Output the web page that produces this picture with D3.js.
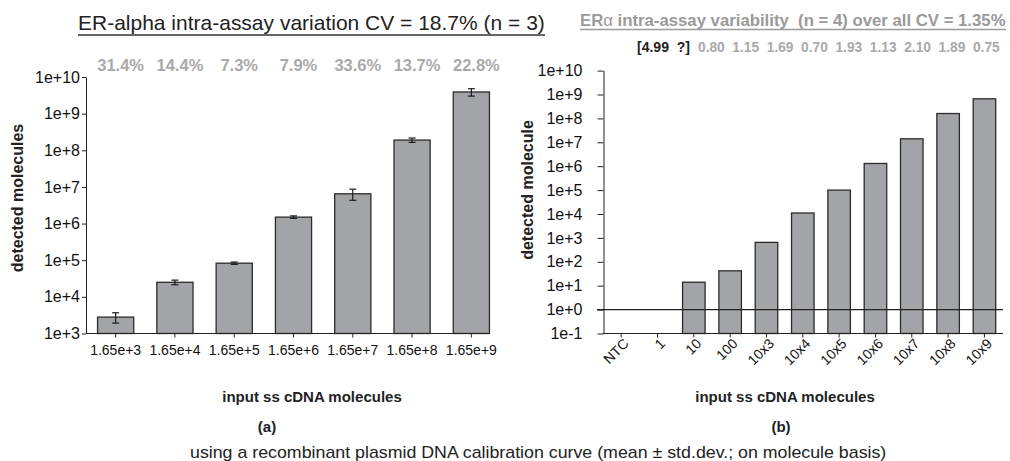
<!DOCTYPE html>
<html>
<head>
<meta charset="UTF-8">
<title>ER-alpha intra-assay variation</title>
<script src="https://d3js.org/d3.v7.min.js"></script>
<style>
  body { margin: 0; background: #fff; }
  svg text { font-family: "Liberation Sans", Arial, sans-serif; }
  .narrow { font-family: "Liberation Sans Narrow", "Arial Narrow", "Liberation Sans", Arial, sans-serif !important; }
  .axis text { fill: #111; }
  .axis path, .axis line { stroke: #222; }
</style>
</head>
<body>
<script>
// data (a): recombinant plasmid calibration, n = 3
var leftCats = ["1.65e+3", "1.65e+4", "1.65e+5", "1.65e+6", "1.65e+7", "1.65e+8", "1.65e+9"];
var leftMeans = [2.8e3, 2.5e4, 8.3e4, 1.5e6, 6.5e6, 1.9e8, 3.9e9];
var leftCV = [31.4, 14.4, 7.3, 7.9, 33.6, 13.7, 22.8];

// data (b): intra-assay variability, n = 4
var rightCats = ["NTC", "1", "10", "100", "10x3", "10x4", "10x5", "10x6", "10x7", "10x8", "10x9"];
var rightValues = [null, null, 14, 42, 650, 1.1e4, 1.0e5, 1.3e6, 1.4e7, 1.6e8, 6.6e8];
var rightBracket = ["4.99", "?"];
var rightCV = ["0.80", "1.15", "1.69", "0.70", "1.93", "1.13", "2.10", "1.89", "0.75"];

var leftTicks = [1e3, 1e4, 1e5, 1e6, 1e7, 1e8, 1e9, 1e10];
var rightTicks = [1e-1, 1e0, 1e1, 1e2, 1e3, 1e4, 1e5, 1e6, 1e7, 1e8, 1e9, 1e10];

var barFill = "#a3a4a7",
    barStroke = "#2b2b2b",
    cvGrey = "#a9a9a9";

function expFormat(d) {
    var e = Math.round(Math.log10(d));
    return "1e" + (e >= 0 ? "+" : "") + e;
}

// squeeze a text horizontally so it spans `w` pixels from x
function fitWidth(sel, x, y, w) {
    var natural = sel.node().getComputedTextLength();
    sel.attr("transform", "translate(" + x + "," + y + ") scale(" + (w / natural) + ",1)");
}

var svg = d3.select("body").append("svg")
    .attr("width", 1010)
    .attr("height", 461);

// ---------- panel (a)
var xL = d3.scaleBand().domain(leftCats).range([86, 501]).paddingInner(0.39).paddingOuter(0.195);
var yL = d3.scaleLog().domain([1e3, 1e10]).range([333.5, 77]);

var gL = svg.append("g");

gL.selectAll("rect.bar")
    .data(leftMeans)
    .enter().append("rect")
    .attr("class", "bar")
    .attr("x", function(d, i) { return xL(leftCats[i]); })
    .attr("width", xL.bandwidth())
    .attr("y", function(d) { return yL(d); })
    .attr("height", function(d) { return yL(1e3) - yL(d); })
    .attr("fill", barFill)
    .attr("stroke", barStroke)
    .attr("stroke-width", 1.3);

// error bars (mean +- sd from CV)
var err = gL.selectAll("g.err")
    .data(leftMeans)
    .enter().append("g")
    .attr("class", "err")
    .attr("transform", function(d, i) { return "translate(" + (xL(leftCats[i]) + xL.bandwidth() / 2) + ",0)"; })
    .attr("stroke", "#1a1a1a")
    .attr("stroke-width", 1.2);
err.append("line")
    .attr("y1", function(d, i) { return yL(d * (1 + leftCV[i] / 100)); })
    .attr("y2", function(d, i) { return yL(d * (1 - leftCV[i] / 100)); });
err.append("line").attr("x1", -3.5).attr("x2", 3.5)
    .attr("y1", function(d, i) { return yL(d * (1 + leftCV[i] / 100)); })
    .attr("y2", function(d, i) { return yL(d * (1 + leftCV[i] / 100)); });
err.append("line").attr("x1", -3.5).attr("x2", 3.5)
    .attr("y1", function(d, i) { return yL(d * (1 - leftCV[i] / 100)); })
    .attr("y2", function(d, i) { return yL(d * (1 - leftCV[i] / 100)); });

gL.append("g")
    .attr("class", "axis")
    .attr("transform", "translate(86,0)")
    .call(d3.axisLeft(yL).tickValues(leftTicks).tickFormat(expFormat).tickSize(4).tickSizeOuter(0).tickPadding(2))
    .call(function(g) { g.selectAll("text").attr("font-size", 16); });

var xAxisL = gL.append("g")
    .attr("class", "axis")
    .attr("transform", "translate(0,333.5)")
    .call(d3.axisBottom(xL).tickSize(4).tickPadding(8));
xAxisL.select(".domain").remove();
xAxisL.selectAll("text").attr("font-size", 14);
gL.append("line")
    .attr("x1", 86).attr("x2", xL(leftCats[leftCats.length - 1]) + xL.bandwidth())
    .attr("y1", 333.5).attr("y2", 333.5)
    .attr("stroke", "#222");

gL.selectAll("text.cv")
    .data(leftCV)
    .enter().append("text")
    .attr("class", "cv")
    .attr("x", function(d, i) { return xL(leftCats[i]) + xL.bandwidth() / 2 + 5; })
    .attr("y", 71)
    .attr("text-anchor", "middle")
    .attr("font-size", 16.5)
    .attr("font-weight", "bold")
    .attr("fill", cvGrey)
    .text(function(d) { return d.toFixed(1) + "%"; });

var titleL = gL.append("text")
    .attr("font-size", 20)
    .attr("fill", "#222")
    .text("ER-alpha intra-assay variation CV = 18.7% (n = 3)");
fitWidth(titleL, 78, 30, 467);
gL.append("line")
    .attr("x1", 78).attr("x2", 545).attr("y1", 35).attr("y2", 35)
    .attr("stroke", "#333").attr("stroke-width", 1.4);

gL.append("text")
    .attr("transform", "translate(23,198) rotate(-90)")
    .attr("text-anchor", "middle")
    .attr("font-size", 16)
    .attr("font-weight", "bold")
    .attr("fill", "#222")
    .text("detected molecules");

gL.append("text")
    .attr("x", 312).attr("y", 402)
    .attr("text-anchor", "middle")
    .attr("font-size", 15)
    .attr("font-weight", "bold")
    .attr("fill", "#222")
    .text("input ss cDNA molecules");

gL.append("text")
    .attr("x", 267).attr("y", 432)
    .attr("text-anchor", "middle")
    .attr("font-size", 15)
    .attr("font-weight", "bold")
    .attr("fill", "#222")
    .text("(a)");

// ---------- panel (b)
var xR = d3.scaleBand().domain(rightCats).range([603, 1002.6]).paddingInner(0.38).paddingOuter(0.19);
var yR = d3.scaleLog().domain([1e-1, 1e10]).range([333.5, 70.6]);

var gR = svg.append("g");

gR.selectAll("rect.bar")
    .data(rightValues.map(function(v, i) { return {cat: rightCats[i], value: v}; })
        .filter(function(d) { return d.value != null; }))
    .enter().append("rect")
    .attr("class", "bar")
    .attr("x", function(d) { return xR(d.cat); })
    .attr("width", xR.bandwidth())
    .attr("y", function(d) { return yR(d.value); })
    .attr("height", function(d) { return yR(1e-1) - yR(d.value); })
    .attr("fill", barFill)
    .attr("stroke", barStroke)
    .attr("stroke-width", 1.3);

gR.append("g")
    .attr("class", "axis")
    .attr("transform", "translate(603.5,0)")
    .call(d3.axisLeft(yR).tickValues(rightTicks).tickFormat(expFormat).tickSize(6).tickSizeOuter(0).tickPadding(15))
    .call(function(g) { g.selectAll("text").attr("font-size", 16); });

var xAxisR = gR.append("g")
    .attr("class", "axis")
    .attr("transform", "translate(0,333.5)")
    .call(d3.axisBottom(xR).tickSize(4).tickFormat(""));
xAxisR.select(".domain").remove();
gR.append("line")
    .attr("x1", 603).attr("x2", 1003)
    .attr("y1", 333.5).attr("y2", 333.5)
    .attr("stroke", "#222");

gR.selectAll("text.xlab")
    .data(rightCats)
    .enter().append("text")
    .attr("class", "xlab")
    .attr("transform", function(d) { return "translate(" + (xR(d) + xR.bandwidth() / 2 + 5) + ",341) rotate(-45)"; })
    .attr("text-anchor", "end")
    .attr("dy", "0.35em")
    .attr("font-size", 14)
    .attr("fill", "#111")
    .text(function(d) { return d; });

// baseline at 1e+0
gR.append("line")
    .attr("x1", 597).attr("x2", 1003)
    .attr("y1", yR(1)).attr("y2", yR(1))
    .attr("stroke", "#222").attr("stroke-width", 1.2);

// CV row: bracketed values for NTC / 1, then one value per bar
var bracket = gR.append("text")
    .attr("class", "narrow")
    .attr("font-size", 15)
    .attr("font-weight", "bold")
    .attr("fill", "#222")
    .style("white-space", "pre")
    .text("[" + rightBracket.join("  ") + "]");
fitWidth(bracket, 637, 52, 53);

var cvRow = gR.append("text")
    .attr("class", "narrow")
    .attr("font-size", 15)
    .attr("font-weight", "bold")
    .attr("fill", cvGrey)
    .style("white-space", "pre")
    .text(rightCV.join("  "));
fitWidth(cvRow, 698, 52, 302);

var titleR = gR.append("text")
    .attr("class", "narrow")
    .attr("font-size", 17)
    .attr("font-weight", "bold")
    .attr("fill", "#9a9a9a")
    .style("white-space", "pre");
titleR.append("tspan").text("ER");
titleR.append("tspan").attr("font-weight", "normal").text("\u03b1");
titleR.append("tspan").text(" intra-assay variability  (n = 4) over all CV = 1.35%");
fitWidth(titleR, 580, 26, 426);
gR.append("line")
    .attr("x1", 580).attr("x2", 1006).attr("y1", 29.5).attr("y2", 29.5)
    .attr("stroke", "#9a9a9a").attr("stroke-width", 1.4);

gR.append("text")
    .attr("transform", "translate(533,190) rotate(-90)")
    .attr("text-anchor", "middle")
    .attr("font-size", 16)
    .attr("font-weight", "bold")
    .attr("fill", "#222")
    .text("detected molecule");

gR.append("text")
    .attr("x", 785).attr("y", 402)
    .attr("text-anchor", "middle")
    .attr("font-size", 15)
    .attr("font-weight", "bold")
    .attr("fill", "#222")
    .text("input ss cDNA molecules");

gR.append("text")
    .attr("x", 781).attr("y", 432)
    .attr("text-anchor", "middle")
    .attr("font-size", 15)
    .attr("font-weight", "bold")
    .attr("fill", "#222")
    .text("(b)");

// caption
var caption = svg.append("text")
    .attr("font-size", 16)
    .attr("fill", "#222")
    .text("using a recombinant plasmid DNA calibration curve (mean \u00b1 std.dev.; on molecule basis)");
fitWidth(caption, 190, 458, 697);
</script>
</body>
</html>
